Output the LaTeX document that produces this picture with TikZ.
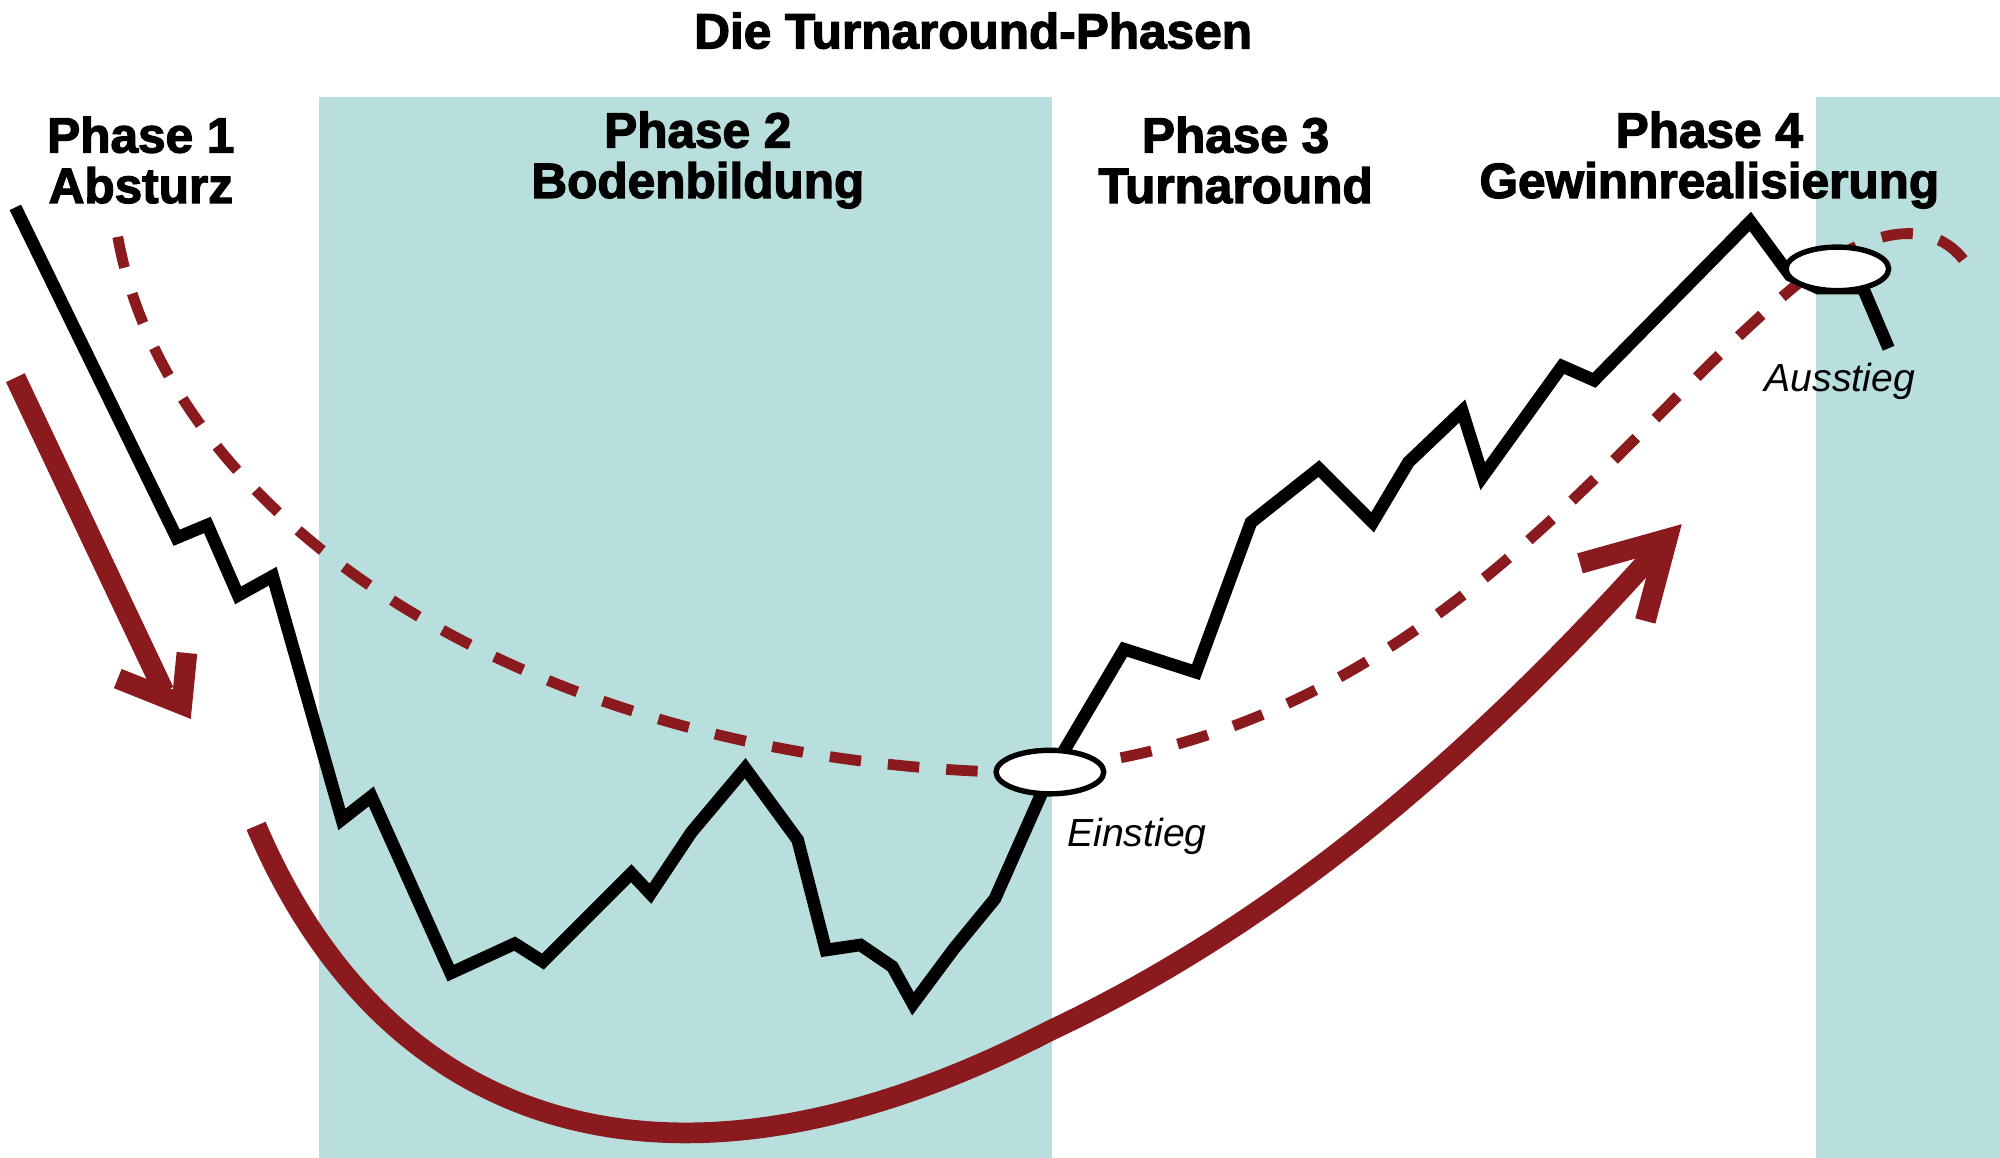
\documentclass[tikz,border=0pt]{standalone}
\usepackage{fontspec}
\setmainfont{Liberation Sans}
\newfontfamily\heavyfont[FakeBold=2.5]{Liberation Sans Bold}
\usetikzlibrary{shapes.geometric}
\definecolor{teal}{HTML}{B8DFDD}
\definecolor{dred}{HTML}{8B1A1F}
\begin{document}
\begin{tikzpicture}[x=0.01cm,y=-0.01cm,
  lbl/.style={font=\heavyfont\fontsize{11}{11.2}\selectfont,align=center,inner sep=0},
  note/.style={font=\fontsize{8.7}{9}\selectfont\itshape,inner sep=0},
  ring/.style={draw=black,fill=white,line width=1.2pt,ellipse,minimum width=0.84cm,minimum height=0.34cm,inner sep=0},
  redline/.style={draw=dred,line width=4.6pt}]
\useasboundingbox (0,0) rectangle (1562,904);
\fill[teal] (249,76) rectangle (822,907);
\fill[teal] (1418,76) rectangle (1562,907);
\node[lbl] (t) at (760,24) {Die Turnaround-Phasen};
\node[lbl] (p1) at (110,125) {Phase 1\\Absturz};
\node[lbl] (p2) at (545,125) {Phase 2\\Bodenbildung};
\node[lbl] (p3) at (965,125) {Phase 3\\Turnaround};
\node[lbl] (p4) at (1335,125) {Phase 4\\Gewinnrealisierung};
% dashed curve
\draw[dred,line width=2.4pt,dash pattern=on 7pt off 6pt]
  (92,185) .. controls (130,400) and (400,590) .. (780,603)
  .. controls (1100,590) and (1250,350) .. (1400,225)
  .. controls (1460,175) and (1510,170) .. (1535,205);
% stock line
\draw[black,line width=2.8pt,line join=miter]
 (12,162)--(138,420)--(162,410)--(186,465)--(213,450)--(267,640)--(290,622)--(352,760)--(402,737)--(424,751)--(493,682)--(508,698)--(540,650)--(582,600)--(623,656)--(645,742)--(672,738)--(697,755)--(713,784)--(745,741)--(777,702)--(820,605)--(878,507)--(934,525)--(977,408)--(1030,366)--(1072,408)--(1100,361)--(1142,321)--(1158,372)--(1220,286)--(1245,297)--(1367,173)--(1398,215)--(1420,225)--(1455,225)--(1475,272);
\node[ring] (e1) at (820,603) {};
\node[ring,minimum width=0.8cm] (e2) at (1435,210) {};
\node[note] (ein) at (888,653) {Einstieg};
\node[note] (aus) at (1437,298) {Ausstieg};
% red arrows
\draw[redline] (12,295)--(128,540);
\draw[redline,line join=miter] (92,530)--(142,550)--(146,510);
\draw[redline] (200,645) .. controls (300,880) and (520,960) .. (820,805)
  .. controls (1000,720) and (1150,590) .. (1292,432);
\draw[redline,line join=miter] (1234,440)--(1302,421)--(1285,485);
\end{tikzpicture}
\end{document}
